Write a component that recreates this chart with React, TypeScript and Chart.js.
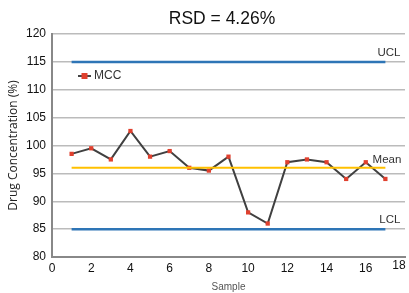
import React, { useEffect, useRef } from "react";
import { Chart, registerables } from "chart.js";

Chart.register(...registerables);

const samples = [1, 2, 3, 4, 5, 6, 7, 8, 9, 10, 11, 12, 13, 14, 15, 16, 17];
const mccValues = [98.5, 99.5, 97.5, 102.6, 98, 99, 96, 95.5, 98, 88, 86, 97, 97.5, 97, 94, 97, 94];
const ucl = 115;
const lcl = 85;
const mean = 96;
const xRange = [1, 17];
const xTicks = [0, 2, 4, 6, 8, 10, 12, 14, 16, 18];
const titleText = "RSD = 4.26%";
const yTitle = "Drug Concentration (%)";
const xTitle = "Sample";
const seriesName = "MCC";

const FONT = "'Liberation Sans', Arial, sans-serif";

const labelPlugin = {
  id: "ctrlLabels",
  afterDraw(chart: any) {
    const { ctx, scales } = chart;
    const x = scales.x, y = scales.y;
    ctx.save();
    // title
    ctx.font = `17.5px ${FONT}`;
    ctx.fillStyle = "#111";
    ctx.textAlign = "center";
    ctx.textBaseline = "middle";
    ctx.fillText(titleText, 222, 19);
    // last x tick label (shifted inward like the original)
    ctx.font = `12px ${FONT}`;
    ctx.fillText(String(xTicks[xTicks.length - 1]), x.right - 6, 266);
    // control line labels
    ctx.font = `11.5px ${FONT}`;
    ctx.fillStyle = "#333";
    ctx.textAlign = "right";
    ctx.textBaseline = "middle";
    const right = x.getPixelForValue(xRange[1]) + 15;
    ctx.fillText("UCL", right, y.getPixelForValue(ucl) - 9);
    ctx.fillText("Mean", right + 1, y.getPixelForValue(mean) - 8);
    ctx.fillText("LCL", right, y.getPixelForValue(lcl) - 9);
    // legend
    const lx = x.left + 26, ly = y.top + 42;
    ctx.strokeStyle = "#444";
    ctx.lineWidth = 2;
    ctx.beginPath();
    ctx.moveTo(lx, ly);
    ctx.lineTo(lx + 13, ly);
    ctx.stroke();
    ctx.fillStyle = "#e0402e";
    ctx.fillRect(lx + 3.5, ly - 3, 6, 6);
    ctx.fillStyle = "#333";
    ctx.textAlign = "left";
    ctx.font = `12px ${FONT}`;
    ctx.fillText(seriesName, lx + 16, ly);
    ctx.restore();
  },
};

export default function App() {
  const ref = useRef<HTMLCanvasElement>(null);
  useEffect(() => {
    document.body.style.margin = "0";
    const chart = new Chart(ref.current!, {
      type: "line",
      data: {
        datasets: [
          {
            label: "UCL",
            data: xRange.map((v) => ({ x: v, y: ucl })),
            borderColor: "#2e75b6",
            borderWidth: 2.5,
            pointRadius: 0,
          },
          {
            label: "LCL",
            data: xRange.map((v) => ({ x: v, y: lcl })),
            borderColor: "#2e75b6",
            borderWidth: 2.5,
            pointRadius: 0,
          },
          {
            label: "Mean",
            data: xRange.map((v) => ({ x: v, y: mean })),
            borderColor: "#ffc000",
            borderWidth: 2,
            pointRadius: 0,
          },
          {
            label: seriesName,
            data: samples.map((s, i) => ({ x: s, y: mccValues[i] })),
            borderColor: "#404040",
            borderWidth: 2,
            pointStyle: "rect",
            pointRadius: 3,
            pointBackgroundColor: "#e0402e",
            pointBorderColor: "#e0402e",
            pointBorderWidth: 0,
          },
        ],
      },
      options: {
        animation: false,
        responsive: false,
        layout: { padding: { left: 0, right: 4, top: 34, bottom: 0 } },
        plugins: {
          legend: { display: false },
          tooltip: { enabled: false },
          title: { display: false },
        },
        scales: {
          x: {
            type: "linear",
            min: 0,
            max: 18,
            afterBuildTicks: (s: any) => { s.ticks = xTicks.map((v) => ({ value: v })); },
            ticks: {
              color: "#111",
              font: { family: FONT, size: 12 },
              padding: 4,
              maxRotation: 0,
              callback: (v: any) => (v === xTicks[xTicks.length - 1] ? "" : String(v)),
            },
            grid: { display: false, drawTicks: false },
            border: { color: "#888", width: 2 },
            title: { display: true, text: xTitle, color: "#555", font: { family: FONT, size: 10 }, padding: { top: 2, bottom: 0 } },
            afterFit: (s: any) => { s.height = 36; },
          },
          y: {
            min: 80,
            max: 120,
            ticks: { stepSize: 5, color: "#111", font: { family: FONT, size: 12 }, padding: 6 },
            grid: { color: "#bbb", lineWidth: 1.5, drawTicks: false },
            border: { color: "#888", width: 2 },
            title: { display: true, text: yTitle, color: "#222", font: { family: "'Open Sans', sans-serif", size: 12 }, padding: { top: 6, bottom: 0 } },
            afterFit: (s: any) => { s.width = 52; },
          },
        },
      },
      plugins: [labelPlugin],
    });
    return () => chart.destroy();
  }, []);
  return <canvas ref={ref} width={409} height={293} />;
}
